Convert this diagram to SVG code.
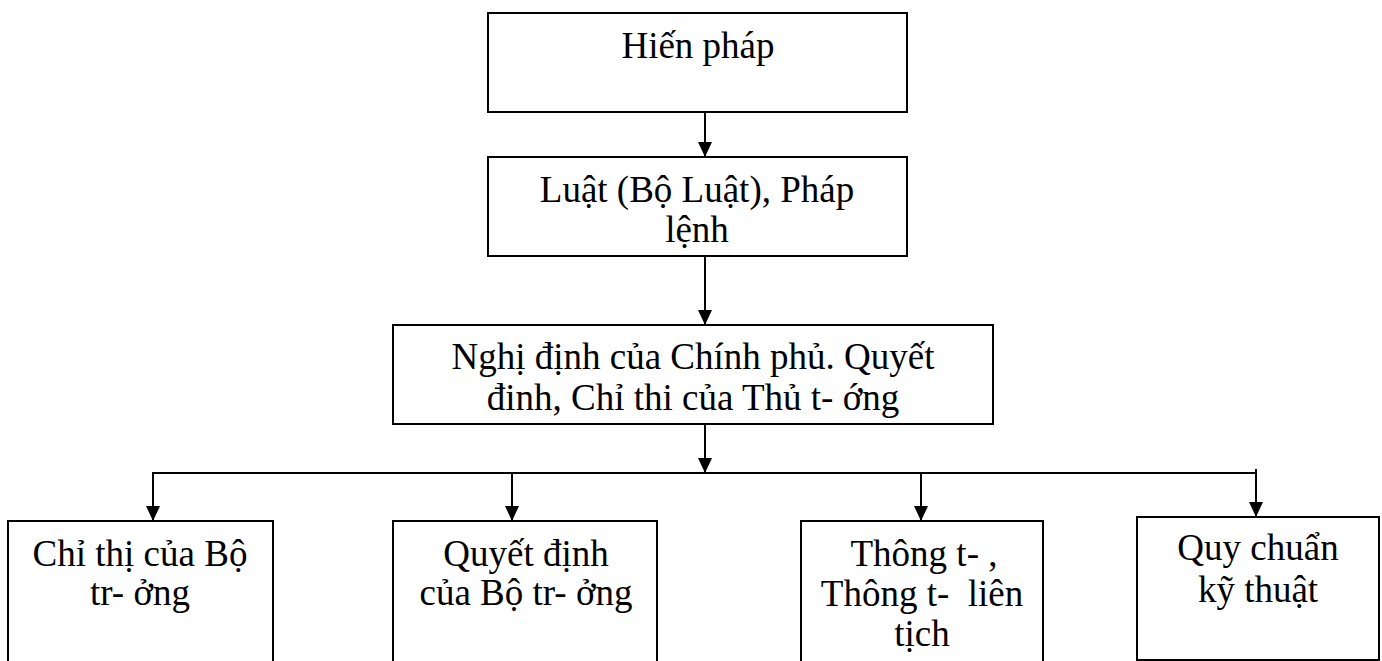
<svg xmlns="http://www.w3.org/2000/svg" width="1382" height="661" viewBox="0 0 1382 661">
<defs>
<marker id="ah" markerWidth="14" markerHeight="15" refX="7" refY="15" orient="auto-start-reverse" markerUnits="userSpaceOnUse" viewBox="0 0 14 15">
<path d="M0,0 L14,0 L7,15 Z" fill="#000"/>
</marker>
<style>
.box{fill:#fff;stroke:#000;stroke-width:2}
.t{font-family:"Liberation Serif","Times New Roman",serif;font-size:37px;fill:#000;text-anchor:middle;white-space:pre}
.c{fill:none;stroke:#000;stroke-width:2}
</style>
</defs>
<rect width="1382" height="661" fill="#fff"/>
<g id="connectors">
<line class="c" x1="705" y1="112" x2="705" y2="157"/>
<path d="M698,142 L712,142 L705,157 Z"/>
<line class="c" x1="705" y1="256" x2="705" y2="325"/>
<path d="M698,310 L712,310 L705,325 Z"/>
<line class="c" x1="705" y1="424" x2="705" y2="473"/>
<path d="M698,458 L712,458 L705,473 Z"/>
<line class="c" x1="152" y1="473" x2="1256" y2="473"/>
<line class="c" x1="153" y1="473" x2="153" y2="521"/>
<path d="M146,506 L160,506 L153,521 Z"/>
<line class="c" x1="512" y1="473" x2="512" y2="521"/>
<path d="M505,506 L519,506 L512,521 Z"/>
<line class="c" x1="921" y1="473" x2="921" y2="521"/>
<path d="M914,506 L928,506 L921,521 Z"/>
<line class="c" x1="1256" y1="469" x2="1256" y2="517"/>
<path d="M1249,502 L1263,502 L1256,517 Z"/>
</g>
<g id="hien-phap">
<rect class="box" x="488" y="13" width="419" height="99"/>
<text class="t" x="698" y="58">Hiến pháp</text>
</g>
<g id="luat">
<rect class="box" x="488" y="157" width="419" height="99"/>
<text class="t" x="697" y="202">Luật (Bộ Luật), Pháp</text>
<text class="t" x="697" y="242">lệnh</text>
</g>
<g id="nghi-dinh">
<rect class="box" x="393" y="325" width="600" height="99"/>
<text class="t" x="693" y="369">Nghị định của Chính phủ. Quyết</text>
<text class="t" x="693" y="410">đinh, Chỉ thi của Thủ t- ớng</text>
</g>
<g id="chi-thi-bo-truong">
<rect class="box" x="8" y="521" width="265" height="150"/>
<text class="t" x="140" y="566">Chỉ thị của Bộ</text>
<text class="t" x="140" y="605">tr- ởng</text>
</g>
<g id="quyet-dinh-bo-truong">
<rect class="box" x="393" y="521" width="264" height="150"/>
<text class="t" x="526" y="566">Quyết định</text>
<text class="t" x="526" y="605">của Bộ tr- ởng</text>
</g>
<g id="thong-tu">
<rect class="box" x="801" y="521" width="242" height="150"/>
<text class="t" x="924" y="566">Thông t- ,</text>
<text class="t" x="922" y="606">Thông t-  liên</text>
<text class="t" x="922" y="646">tịch</text>
</g>
<g id="quy-chuan">
<rect class="box" x="1137" y="517" width="242" height="143"/>
<text class="t" x="1258" y="560">Quy chuẩn</text>
<text class="t" x="1258" y="602">kỹ thuật</text>
</g>
</svg>
